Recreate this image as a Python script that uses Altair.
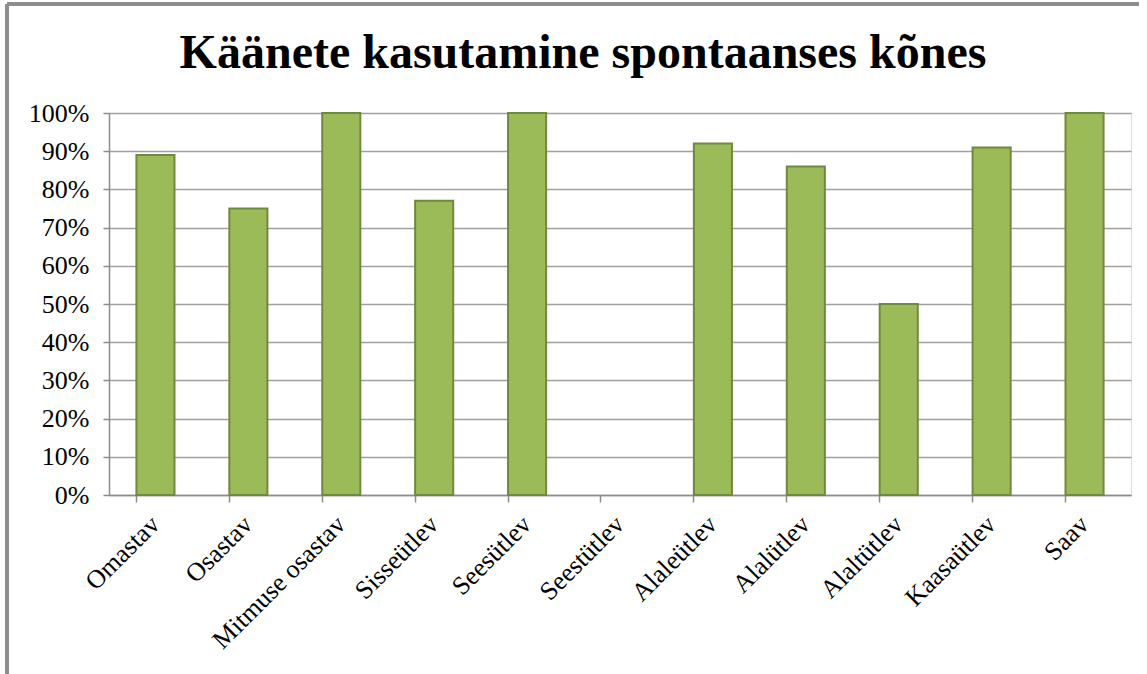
import altair as alt
import pandas as pd

categories = ["Omastav", "Osastav", "Mitmuse osastav", "Sisseütlev", "Seesütlev",
              "Seestütlev", "Alaleütlev", "Alalütlev", "Alaltütlev", "Kaasaütlev", "Saav"]
values = [0.89, 0.75, 1.00, 0.77, 1.00, 0.0, 0.92, 0.86, 0.50, 0.91, 1.00]
y_ticks = [i / 10 for i in range(11)]
title_text = "Käänete kasutamine spontaanses kõnes"

df = pd.DataFrame({"kääne": categories, "osakaal": values})

FONT = "Liberation Serif"

bars = alt.Chart(df).mark_bar(
    fill="#9BBB59", stroke="#71893F", strokeWidth=2
).encode(
    x=alt.X("kääne:N", sort=categories,
            scale=alt.Scale(paddingInner=0.59, paddingOuter=0.295),
            axis=alt.Axis(title=None, labelAngle=315, labelAlign="right",
                          labelBaseline="middle", labelPadding=18,
                          labelFont=FONT, labelFontSize=26, labelColor="#000000",
                          bandPosition=0, ticks=True, tickSize=7, tickColor="#8C8C8C",
                          tickWidth=1.5, domainColor="#8C8C8C", domainWidth=1.5,
                          grid=False, labelLimit=400)),
    y=alt.Y("osakaal:Q", scale=alt.Scale(domain=[0, 1], nice=False),
            axis=alt.Axis(title=None, format=".0%", values=y_ticks,
                          labelFont=FONT, labelFontSize=26, labelColor="#000000",
                          labelPadding=14, tickSize=6, tickColor="#8C8C8C",
                          tickWidth=1.5, domainColor="#8C8C8C", domainWidth=1.5,
                          grid=True, gridColor="#A0A0A0", gridWidth=1.3)),
    strokeOpacity=alt.condition("datum.osakaal == 0", alt.value(0), alt.value(1)),
)

top_line = alt.Chart(df).mark_rule(color="#8C8C8C", strokeWidth=2.5).encode(
    x=alt.value(-102), x2=alt.value(1030), y=alt.value(-109))
left_line = alt.Chart(df).mark_rule(color="#8C8C8C", strokeWidth=2.5).encode(
    x=alt.value(-102), y=alt.value(-109), y2=alt.value(600))

title = alt.Chart(pd.DataFrame({"t": [title_text]})).mark_text(
    font=FONT, fontSize=48, fontWeight="bold", color="#000000",
    align="center", baseline="alphabetic"
).encode(text="t:N", x=alt.value(474), y=alt.value(-45))

chart = alt.layer(bars, top_line, left_line, title).properties(
    width=1022, height=382,
    autosize=alt.AutoSizeParams(type="none"),
    padding={"left": 109, "top": 113, "right": 16, "bottom": 179},
).configure_view(fill="#EFF2EA", stroke=None).configure(background="#FFFFFF")

chart.save("out.html", embed_options={"renderer": "svg", "actions": False})
